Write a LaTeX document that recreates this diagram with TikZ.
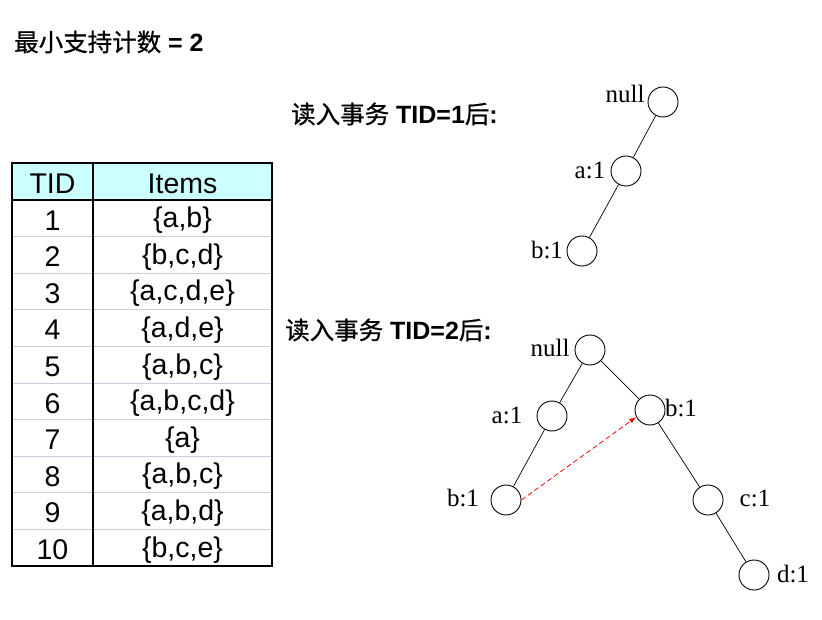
\documentclass[tikz,border=0pt]{standalone}
\usepackage{fontspec}
\usetikzlibrary{arrows.meta}
\newfontfamily\arialf{Liberation Sans}
\newfontfamily\tmsf{Liberation Serif}
\newfontfamily\cjk[FakeBold=0.8]{Noto Sans CJK SC}
\definecolor{hdrfill}{RGB}{204,255,255}
\definecolor{rowline}{RGB}{200,208,224}
\tikzset{
  fpnode/.style={circle,draw=black,line width=0.9pt,minimum size=30pt,inner sep=0pt},
  fplabel/.style={font=\tmsf\fontsize{25}{28}\selectfont,inner sep=0pt},
  fpedge/.style={line width=0.7pt},
  cell/.style={font=\arialf\fontsize{28.5}{32}\selectfont,inner sep=0pt},
  heading/.style={anchor=west,inner sep=0pt},
  linkarrow/.style={red,line width=0.8pt,dash pattern=on 5pt off 3pt,-{Latex[length=7pt,width=5pt]}}
}
\newcommand{\hd}[1]{{\cjk\fontsize{24.5}{28}\selectfont #1}}
\newcommand{\hl}[1]{{\arialf\bfseries\fontsize{25}{28}\selectfont #1}}
\begin{document}
\begin{tikzpicture}[x=1pt,y=-1pt]
\useasboundingbox (0,0) rectangle (822,620);
% headings
\node[heading] (title) at (14,42) {\hd{最小支持计数}\hl{ = 2}};
\node[heading] (h1) at (291,114) {\hd{读入事务}\hl{ TID=1}\hd{后}\hl{:}};
\node[heading] (h2) at (285,330) {\hd{读入事务}\hl{ TID=2}\hd{后}\hl{:}};
% table
\fill[hdrfill] (12,163) rectangle (272,200);
\foreach \k in {1,...,9}{
  \draw[rowline,line width=1pt] (12,{200+36.6*\k}) -- (272,{200+36.6*\k});
}
\draw[line width=1.1pt] (93,163) -- (93,566);
\draw[line width=2pt] (12,200) -- (272,200);
\draw[line width=1.3pt] (12,163) rectangle (272,566);
\node[cell] (th1) at (52.5,184) {TID};
\node[cell] (th2) at (182.5,184) {Items};
\foreach \i/\s in {1/{\{a,b\}},2/{\{b,c,d\}},3/{\{a,c,d,e\}},4/{\{a,d,e\}},5/{\{a,b,c\}},6/{\{a,b,c,d\}},7/{\{a\}},8/{\{a,b,c\}},9/{\{a,b,d\}},10/{\{b,c,e\}}}{
  \node[cell] (tid\i) at (52.5,{202+36.6*(\i-0.5)}) {\i};
  \node[cell] (itm\i) at (182.5,{202+36.6*(\i-0.5)}) {\s};
}
% tree 1
\node[fpnode] (n1) at (663,102) {};
\node[fpnode] (a1) at (626,171) {};
\node[fpnode] (b1) at (582,251) {};
\node[fplabel] (ln1) at (625,94) {null};
\node[fplabel] (la1) at (590,170) {a:1};
\node[fplabel] (lb1) at (547,250) {b:1};
\draw[fpedge] (n1) -- (a1);
\draw[fpedge] (a1) -- (b1);
% tree 2
\node[fpnode] (n2) at (590,350) {};
\node[fpnode] (a2) at (552,416) {};
\node[fpnode] (b2) at (650,410) {};
\node[fpnode] (b3) at (506,500) {};
\node[fpnode] (c2) at (708,500) {};
\node[fpnode] (d2) at (754,575) {};
\node[fplabel] (ln2) at (550,348) {null};
\node[fplabel] (la2) at (507,415) {a:1};
\node[fplabel] (lb2) at (681,408) {b:1};
\node[fplabel] (lb3) at (463,498) {b:1};
\node[fplabel] (lc2) at (755,498) {c:1};
\node[fplabel] (ld2) at (793,574) {d:1};
\draw[fpedge] (n2) -- (a2);
\draw[fpedge] (n2) -- (b2);
\draw[fpedge] (a2) -- (b3);
\draw[fpedge] (b2) -- (c2);
\draw[fpedge] (c2) -- (d2);
\draw[linkarrow] (b3.east) -- (b2.207);
\end{tikzpicture}
\end{document}
